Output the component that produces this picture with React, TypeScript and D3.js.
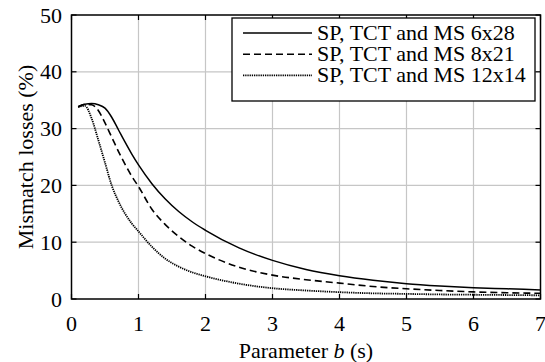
import React from "react";
import * as d3 from "d3";

const bValues = [0.1, 0.2, 0.3, 0.4, 0.5, 0.6, 0.7, 0.8, 0.9, 1.0, 1.2, 1.4, 1.6, 1.8, 2.0, 2.5, 3, 3.5, 4, 4.5, 5, 5.5, 6, 6.5, 7];
const loss6x28 = [33.9, 34.3, 34.4, 34.2, 33.6, 32.0, 29.8, 27.6, 25.5, 23.6, 20.3, 17.6, 15.4, 13.6, 12.1, 9.0, 6.8, 5.2, 4.1, 3.3, 2.7, 2.3, 2.0, 1.8, 1.6];
const loss8x21 = [33.8, 34.3, 34.2, 33.2, 31.0, 28.5, 26.0, 23.7, 21.6, 19.8, 15.8, 13.1, 11.0, 9.3, 8.0, 5.6, 4.2, 3.4, 2.8, 2.2, 1.8, 1.5, 1.25, 1.1, 1.0];
const loss12x14 = [33.8, 34.0, 31.8, 28.0, 24.0, 20.0, 17.2, 15.0, 13.3, 11.9, 9.2, 7.1, 5.7, 4.7, 4.0, 2.7, 1.9, 1.5, 1.2, 1.0, 0.9, 0.8, 0.75, 0.7, 0.65];
const seriesNames = ["SP, TCT and MS 6x28", "SP, TCT and MS 8x21", "SP, TCT and MS 12x14"];
const xTicks = [0, 1, 2, 3, 4, 5, 6, 7];
const yTicks = [0, 10, 20, 30, 40, 50];

const W = 545, H = 362;
const L = 71.5, R = 540.5, T = 15, B = 299;
const FF = "Liberation Serif";
const ts = { fontFamily: FF, fontSize: "22px" };

export default function App() {
  const x = d3.scaleLinear().domain([0, 7]).range([L, R]);
  const y = d3.scaleLinear().domain([0, 50]).range([B, T]);
  const line = d3.line<number>().x((_, i) => x(bValues[i])).y((d) => y(d)).curve(d3.curveMonotoneX);
  const series = [
    { name: seriesNames[0], values: loss6x28, dash: "none", width: 1.5 },
    { name: seriesNames[1], values: loss8x21, dash: "7,4", width: 1.6 },
    { name: seriesNames[2], values: loss12x14, dash: "1.3,0.9", width: 1.8 },
  ];
  const legX = 232, legY = 18, legW = 303, legH = 83;
  return (
    <div style={{ position: "absolute", left: 0, top: 0, width: W, height: H, background: "#fff" }}>
      <svg width={W} height={H} style={{ display: "block" }}>
        {xTicks.slice(1, -1).map((t) => (
          <line key={"gx" + t} x1={x(t)} x2={x(t)} y1={T} y2={B} stroke="#c6c6c6" strokeWidth={1.2} />
        ))}
        {yTicks.slice(1, -1).map((t) => (
          <line key={"gy" + t} x1={L} x2={R} y1={y(t)} y2={y(t)} stroke="#c6c6c6" strokeWidth={1.2} />
        ))}
        {series.map((s) => (
          <path key={s.name} d={line(s.values) || ""} fill="none" stroke="#000" strokeWidth={s.width} strokeDasharray={s.dash} />
        ))}
        {xTicks.map((t) => (
          <line key={"txb" + t} x1={x(t)} x2={x(t)} y1={B} y2={B - 5} stroke="#000" strokeWidth={1.2} />
        ))}
        {xTicks.map((t) => (
          <line key={"txt" + t} x1={x(t)} x2={x(t)} y1={T} y2={T + 5} stroke="#000" strokeWidth={1.2} />
        ))}
        {xTicks.map((t) => (
          <text key={"lx" + t} x={x(t)} y={331} textAnchor="middle" style={ts}>{t}</text>
        ))}
        {yTicks.map((t) => (
          <line key={"tyl" + t} x1={L} x2={L + 5} y1={y(t)} y2={y(t)} stroke="#000" strokeWidth={1.2} />
        ))}
        {yTicks.map((t) => (
          <line key={"tyr" + t} x1={R} x2={R - 5} y1={y(t)} y2={y(t)} stroke="#000" strokeWidth={1.2} />
        ))}
        {yTicks.map((t) => (
          <text key={"ly" + t} x={62} y={y(t) + 7.5} textAnchor="end" style={ts}>{t}</text>
        ))}
        <rect x={L} y={T} width={R - L} height={B - T} fill="none" stroke="#000" strokeWidth={1.5} />
        <rect x={legX} y={legY} width={legW} height={legH} fill="#fff" stroke="#000" strokeWidth={1.3} />
        {series.map((s, i) => (
          <line key={"legl" + i} x1={243} x2={312} y1={33 + i * 21.2} y2={33 + i * 21.2} stroke="#000" strokeWidth={s.width} strokeDasharray={s.dash} />
        ))}
        {series.map((s, i) => (
          <text key={"legt" + i} x={317} y={33 + i * 21.2 + 6.8} style={ts}>{s.name}</text>
        ))}
        <text x={(L + R) / 2} y={357.5} textAnchor="middle" style={ts}>
          Parameter <tspan fontStyle="italic">b</tspan> (s)
        </text>
        <text transform={`translate(33,${(T + B) / 2}) rotate(-90)`} textAnchor="middle" style={ts}>
          Mismatch losses (%)
        </text>
      </svg>
    </div>
  );
}
